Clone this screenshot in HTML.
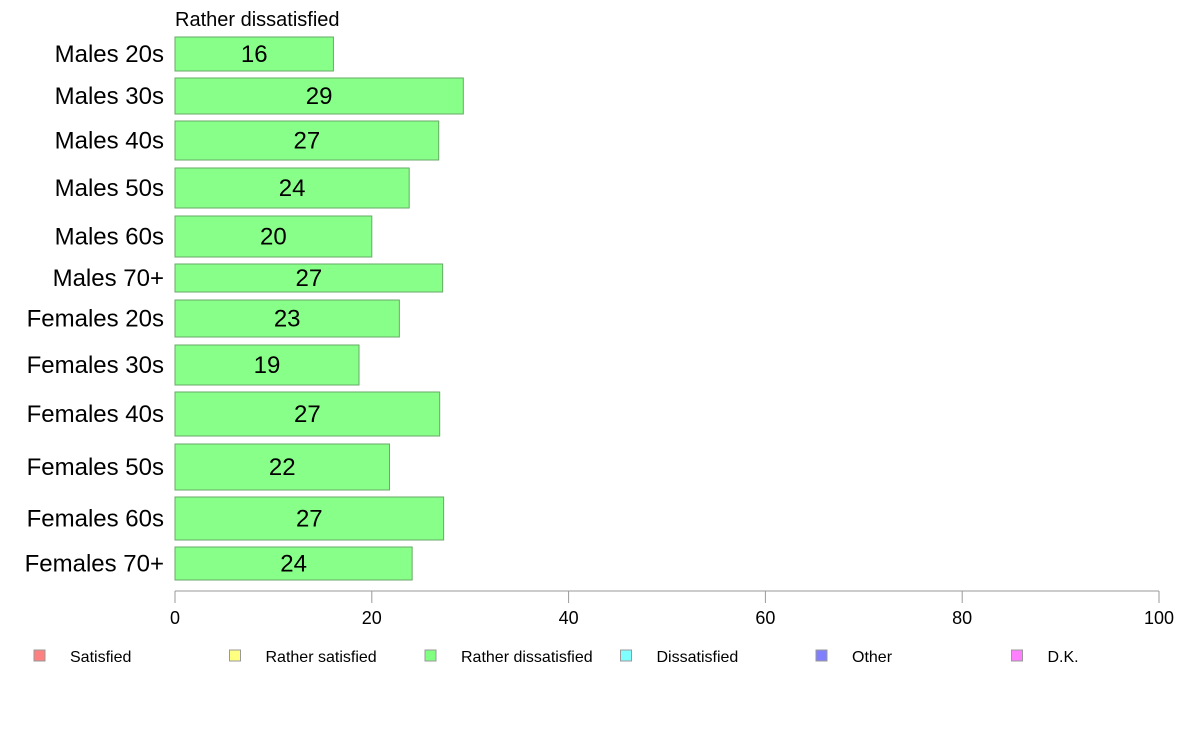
<!DOCTYPE html>
<html><head><meta charset="utf-8"><style>
body{margin:0;background:#fff;font-family:"Liberation Sans",sans-serif}
svg text{font-family:"Liberation Sans",sans-serif}
</style></head><body>
<svg id="chart" width="1188" height="736" xmlns="http://www.w3.org/2000/svg">
<text x="175" y="26" font-size="20">Rather dissatisfied</text>
<g id="bars"></g>
<g id="axis"></g>
<g id="legend"></g>
</svg>
<script>
const categories=["Males 20s","Males 30s","Males 40s","Males 50s","Males 60s","Males 70+","Females 20s","Females 30s","Females 40s","Females 50s","Females 60s","Females 70+"];
const values=[16.1,29.3,26.8,23.8,20.0,27.2,22.8,18.7,26.9,21.8,27.3,24.1];
const valueLabels=["16","29","27","24","20","27","23","19","27","22","27","24"];
const rowTops=[37,78,121,168,216,264,300,345,392,444,497,547];
const rowBottoms=[71,114,160,208,257,292,337,385,436,490,540,580];
const ticks=[0,20,40,60,80,100];
const legendLabels=["Satisfied","Rather satisfied","Rather dissatisfied","Dissatisfied","Other","D.K."];
const legendColors=["#ff8080","#ffff80","#80ff80","#80ffff","#8080ff","#ff80ff"];
const NS="http://www.w3.org/2000/svg";
const x=v=>175+v*(1159-175)/100;
function mk(t,a,p){const e=document.createElementNS(NS,t);for(const k in a)e.setAttribute(k,a[k]);p.appendChild(e);return e;}
const bars=document.getElementById('bars');
categories.forEach((c,i)=>{
 const y0=rowTops[i],y1=rowBottoms[i],ym=(y0+y1)/2;
 const r=mk('rect',{x:x(0),y:y0,width:x(values[i])-x(0),height:y1-y0,fill:"#88ff88",stroke:"#66aa66","stroke-width":1},bars);
 
 
 const t=mk('text',{x:(x(0)+x(values[i]))/2,y:ym+8,"font-size":24,"text-anchor":"middle"},bars);t.textContent=valueLabels[i];
 
 
 const l=mk('text',{x:164,y:ym+8,"font-size":24,"text-anchor":"end"},bars);l.textContent=c;
 
 
});
const ax=document.getElementById('axis');
mk('line',{x1:x(0),x2:x(100),y1:591,y2:591,stroke:"#999"},ax);
ticks.forEach(v=>{
 mk('line',{x1:x(v),x2:x(v),y1:591,y2:603,stroke:"#999"},ax);
 const t=mk('text',{x:x(v),y:624,"font-size":18,"text-anchor":"middle"},ax);t.textContent=v;
 
 
});
const lg=document.getElementById('legend');
legendLabels.forEach((s,i)=>{
 const lx=34+i*195.5;
 const r=mk('rect',{x:lx,y:650,width:11,height:11,fill:legendColors[i],stroke:"#999"},lg);
 
 
 const t=mk('text',{x:lx+36,y:662,"font-size":16},lg);t.textContent=s;
 
 
});
</script>
</body></html>
